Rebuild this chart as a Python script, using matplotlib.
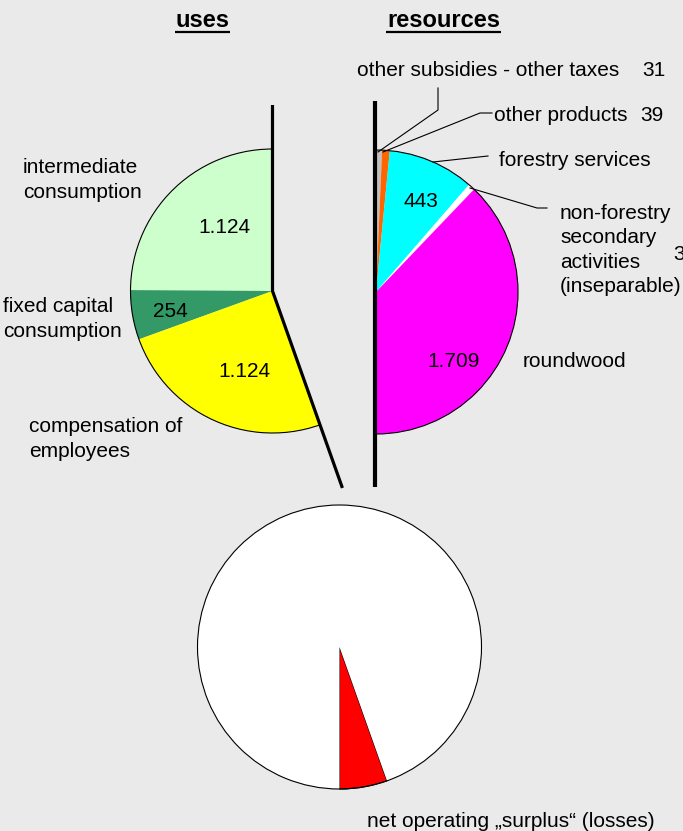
import matplotlib
matplotlib.use("Agg")
import matplotlib.pyplot as plt
from matplotlib.patches import Arc

plt.rcParams['font.family'] = ['Liberation Sans', 'DejaVu Sans']

# data
uses_labels = ["intermediate\nconsumption", "fixed capital\nconsumption", "compensation of\nemployees"]
uses_values = [1124, 254, 1124]
uses_colors = ['#CCFFCC', '#339966', '#FFFF00']

res_labels = ["other subsidies - other taxes", "other products", "forestry services",
              "non-forestry\nsecondary\nactivities\n(inseparable)", "roundwood"]
res_values = [31, 39, 443, 35, 1709]
res_colors = ['#C0C0C0', '#FF6600', '#00FFFF', '#FFFFFF', '#FF00FF']

total = sum(res_values)
loss = sum(uses_values) - total

W, H = 683, 831
R = 142


def fmt(v):
    return f"{v:,}".replace(",", ".")


def Y(py):
    return H - py


fig = plt.figure(figsize=(W / 100, H / 100), dpi=100)
fig.patch.set_facecolor('#EAEAEA')
ax = fig.add_axes([0, 0, 1, 1])
ax.set_facecolor('#EAEAEA')

# uses: half pie, counterclockwise from top, 180 deg = total resources
lc = (272.5, Y(291))
w, _ = ax.pie(uses_values + [2 * total - sum(uses_values)], colors=uses_colors + ['none'],
              startangle=90, counterclock=True, radius=R, center=lc, frame=True,
              wedgeprops=dict(linewidth=0))
end_ang = 90 + sum(uses_values) / total * 180
ax.add_patch(Arc(lc, 2 * R, 2 * R, theta1=90, theta2=end_ang, color='black', lw=0.8))

# resources: half pie, clockwise from top
rc = (376, Y(292))
ax.pie(res_values + [total], colors=res_colors + ['none'],
       startangle=90, counterclock=False, radius=R, center=rc, frame=True,
       wedgeprops=dict(linewidth=0))
ax.add_patch(Arc(rc, 2 * R, 2 * R, theta1=-90, theta2=90, color='black', lw=0.8))

# net operating surplus (losses)
bc = (339.5, Y(647))
bw, _ = ax.pie([loss, 2 * total - loss], colors=['#FF0000', '#FFFFFF'],
               startangle=270, counterclock=True, radius=R, center=bc, frame=True,
               wedgeprops=dict(linewidth=0))
bw[0].set_edgecolor('black')
bw[0].set_linewidth(0.8)
ax.add_patch(Arc(bc, 2 * R, 2 * R, theta1=0, theta2=360, color='black', lw=0.8))

# thick axis lines
import numpy as np
L = 209
ex = lc[0] + L * np.cos(np.radians(end_ang))
ey = lc[1] + L * np.sin(np.radians(end_ang))
ax.plot([lc[0], lc[0], ex], [Y(105), lc[1], ey], color='black', lw=2.3,
        solid_joinstyle='miter', solid_capstyle='butt')
ax.plot([375, 375], [Y(101), Y(487)], color='black', lw=3, solid_capstyle='butt')

fs = 15
# titles
ax.text(202.5, Y(27), "uses", fontsize=17, fontweight='bold', ha='center', va='baseline')
ax.plot([175, 230], [Y(31.5)] * 2, color='black', lw=1.6, solid_capstyle='butt')
ax.text(443.5, Y(27), "resources", fontsize=17, fontweight='bold', ha='center', va='baseline')
ax.plot([386, 501], [Y(31.5)] * 2, color='black', lw=1.6, solid_capstyle='butt')

# uses labels
for lab, (x, y) in zip(uses_labels, [(23, 173), (3, 312), (29, 432)]):
    for i, line in enumerate(lab.split("\n")):
        ax.text(x, Y(y + 25 * i), line, fontsize=fs, va='baseline')
for v, (x, y) in zip(uses_values, [(224, 233), (170, 317), (244, 377)]):
    ax.text(x, Y(y), fmt(v), fontsize=fs, ha='center', va='baseline')

# resources labels
ax.text(357, Y(76), res_labels[0], fontsize=fs, va='baseline')
ax.text(642, Y(76), fmt(res_values[0]), fontsize=fs, va='baseline')
ax.text(494, Y(121), res_labels[1], fontsize=fs, va='baseline')
ax.text(640, Y(121), fmt(res_values[1]), fontsize=fs, va='baseline')
ax.text(499, Y(166), res_labels[2], fontsize=fs, va='baseline')
for i, line in enumerate(res_labels[3].split("\n")):
    ax.text(560, Y(219 + 24.3 * i), line, fontsize=fs, va='baseline')
ax.text(673, Y(260), fmt(res_values[3]), fontsize=fs, va='baseline')
ax.text(421, Y(207), fmt(res_values[2]), fontsize=fs, ha='center', va='baseline')
ax.text(454, Y(367), fmt(res_values[4]), fontsize=fs, ha='center', va='baseline')
ax.text(523, Y(367), res_labels[4], fontsize=fs, va='baseline')

ax.text(367, Y(827), "net operating \u201esurplus\u201c (losses)", fontsize=fs, va='baseline')

# leader lines
leaders = [
    [(378, 152), (438, 110), (438, 88)],
    [(383, 152), (480, 113), (492, 113)],
    [(433, 162), (488, 156)],
    [(470, 188), (537, 208), (547, 208)],
]
for pts in leaders:
    ax.plot([p[0] for p in pts], [Y(p[1]) for p in pts], color='black', lw=0.8)

ax.set_xlim(0, W)
ax.set_ylim(0, H)
ax.set_aspect('auto')
ax.axis('off')

fig.savefig("out.png", dpi=100, facecolor=fig.get_facecolor())
